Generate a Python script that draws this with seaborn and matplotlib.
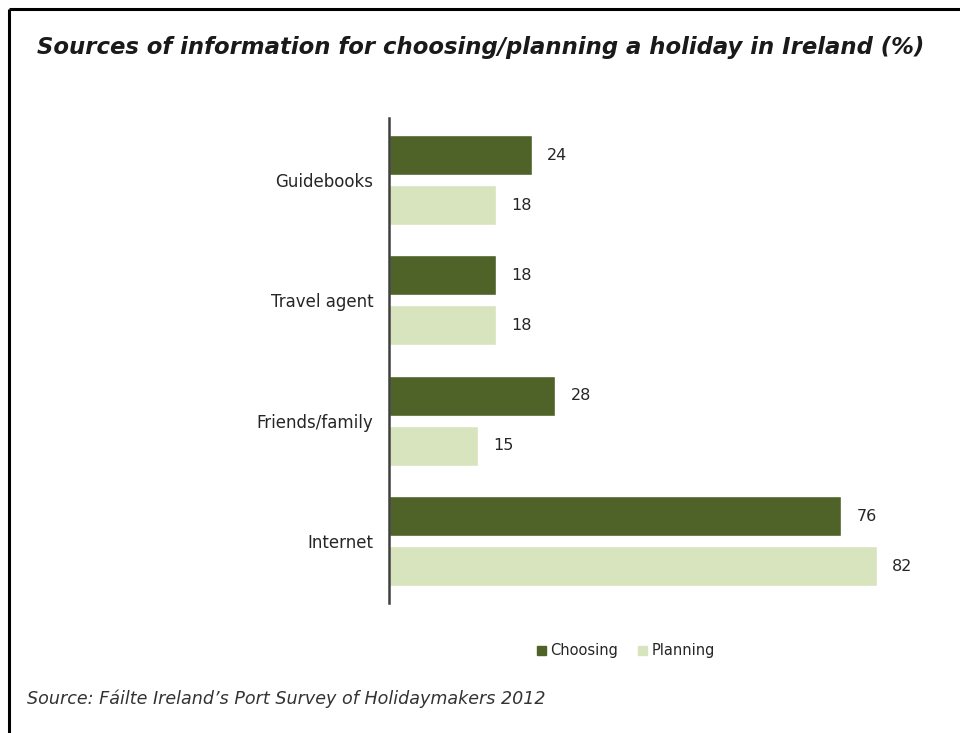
import matplotlib
matplotlib.use("Agg")
import matplotlib.pyplot as plt
from matplotlib.lines import Line2D
import pandas as pd
import seaborn as sns

categories = ["Guidebooks", "Travel agent", "Friends/family", "Internet"]
choosing = [24, 18, 28, 76]
planning = [18, 18, 15, 82]
series_names = ["Choosing", "Planning"]

title = "Sources of information for choosing/planning a holiday in Ireland (%)"
source = "Source: Fáilte Ireland\u2019s Port Survey of Holidaymakers 2012"

dark_green = "#4f6228"
light_green = "#d7e4bd"
text_color = "#262626"

df = pd.DataFrame({
    "source": categories * 2,
    "value": choosing + planning,
    "series": [series_names[0]] * len(categories) + [series_names[1]] * len(categories),
})

sns.set_theme(style="white")
plt.rcParams["font.family"] = ["DejaVu Sans"]

fig = plt.figure(figsize=(9.6, 7.33), dpi=100)
ax = fig.add_axes([0.405, 0.177, 0.564, 0.662])

sns.barplot(
    data=df, y="source", x="value", hue="series", orient="h",
    order=categories, hue_order=series_names,
    palette=[dark_green, light_green], width=0.83, gap=0.2,
    saturation=1, ax=ax, legend=False,
)

for cont in ax.containers:
    ax.bar_label(cont, fmt="%d", padding=11, fontsize=11.5, color=text_color)

ax.set_xlim(0, 91)
ax.set_ylim(3.515, -0.515)
ax.set_xlabel("")
ax.set_ylabel("")
ax.set_xticks([])
ax.tick_params(axis="y", length=0, pad=11, labelsize=12, labelcolor=text_color)
for side in ["top", "right", "bottom"]:
    ax.spines[side].set_visible(False)
ax.spines["left"].set_color("#404040")
ax.spines["left"].set_linewidth(1.8)

# legend
handles = [
    plt.Rectangle((0, 0), 1, 1, color=dark_green),
    plt.Rectangle((0, 0), 1, 1, color=light_green),
]
fig.legend(
    handles, series_names, loc="center", bbox_to_anchor=(0.652, 0.112),
    ncol=2, frameon=False, fontsize=10.5, handlelength=0.6, handleheight=0.6,
    handletextpad=0.3, columnspacing=1.4, labelcolor=text_color,
)

fig.text(0.039, 0.935, title, fontsize=16.4, fontweight="bold", fontstyle="italic",
         color="#1a1a1a", ha="left", va="center")
fig.text(0.028, 0.047, source, fontsize=12.6, fontstyle="italic",
         color="#333333", ha="left", va="center")

# frame lines along the top and left edges
fig.add_artist(Line2D([0.0095, 1.0], [0.988, 0.988], transform=fig.transFigure,
                      color="black", linewidth=2.2, solid_capstyle="butt"))
fig.add_artist(Line2D([0.0095, 0.0095], [0.0, 0.988], transform=fig.transFigure,
                      color="black", linewidth=2.2, solid_capstyle="butt"))

fig.savefig("out.png", dpi=100, facecolor="white")
